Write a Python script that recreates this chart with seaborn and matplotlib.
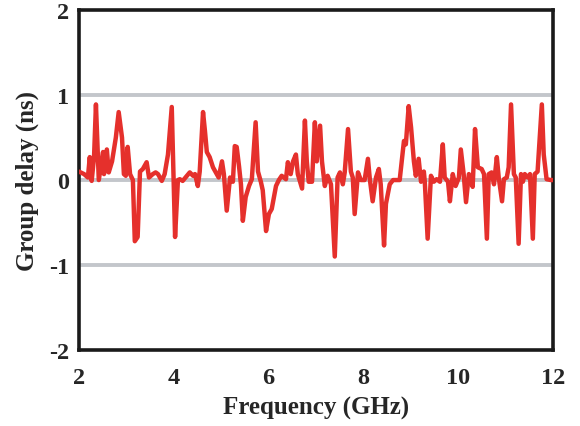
import matplotlib
matplotlib.use("Agg")
import matplotlib.pyplot as plt
import seaborn as sns
import pandas as pd

# Measured group delay variation across the band
freq_ghz = [
    2.00, 2.11, 2.19, 2.23, 2.27, 2.32, 2.36, 2.42, 2.46, 2.51, 2.53, 2.59, 2.63, 2.70,
    2.78, 2.84, 2.91, 2.95, 2.99, 3.03, 3.08, 3.14, 3.18, 3.24, 3.29, 3.35, 3.43, 3.48,
    3.56, 3.62, 3.67, 3.75, 3.81, 3.88, 3.96, 3.98, 4.03, 4.09, 4.13, 4.19, 4.28, 4.34,
    4.41, 4.45, 4.51, 4.55, 4.62, 4.66, 4.70, 4.76, 4.83, 4.91, 4.95, 5.02, 5.06, 5.12,
    5.19, 5.25, 5.29, 5.33, 5.38, 5.42, 5.46, 5.52, 5.59, 5.65, 5.73, 5.78, 5.84, 5.88,
    5.95, 6.01, 6.07, 6.16, 6.22, 6.28, 6.37, 6.41, 6.47, 6.52, 6.58, 6.62, 6.71, 6.77,
    6.81, 6.85, 6.92, 6.98, 7.02, 7.09, 7.13, 7.19, 7.25, 7.32, 7.40, 7.46, 7.51, 7.57,
    7.61, 7.68, 7.74, 7.78, 7.82, 7.89, 7.95, 8.03, 8.10, 8.14, 8.20, 8.27, 8.33, 8.37,
    8.44, 8.48, 8.56, 8.63, 8.71, 8.77, 8.86, 8.90, 8.96, 9.01, 9.07, 9.11, 9.17, 9.22,
    9.28, 9.30, 9.36, 9.43, 9.49, 9.55, 9.62, 9.68, 9.72, 9.79, 9.83, 9.89, 9.95, 10.02,
    10.06, 10.12, 10.17, 10.23, 10.31, 10.36, 10.42, 10.50, 10.55, 10.61, 10.65, 10.71,
    10.76, 10.82, 10.86, 10.93, 10.97, 11.03, 11.07, 11.12, 11.18, 11.22, 11.28, 11.33,
    11.37, 11.41, 11.47, 11.52, 11.58, 11.62, 11.68, 11.77, 11.81, 11.87, 11.96, 12.00,
]
delay_ns = [
    0.10, 0.07, 0.03, 0.27, -0.01, 0.27, 0.89, 0.00, 0.15, 0.33, 0.07, 0.36, 0.09, 0.22,
    0.50, 0.80, 0.50, 0.07, 0.05, 0.39, 0.07, 0.00, -0.72, -0.67, 0.10, 0.13, 0.21, 0.03,
    0.07, 0.09, 0.07, -0.01, 0.07, 0.30, 0.86, 0.42, -0.67, 0.00, 0.01, -0.01, 0.05, 0.09,
    0.05, 0.07, -0.07, 0.10, 0.80, 0.58, 0.33, 0.27, 0.15, 0.07, 0.03, 0.22, 0.07, -0.36,
    0.03, -0.02, 0.40, 0.39, 0.16, -0.05, -0.48, -0.20, -0.07, 0.01, 0.68, 0.10, -0.02, -0.12,
    -0.60, -0.40, -0.34, -0.07, 0.00, 0.05, 0.01, 0.21, 0.07, 0.22, 0.30, 0.07, -0.10, 0.70,
    0.22, -0.02, -0.02, 0.68, 0.22, 0.64, 0.22, -0.07, 0.05, -0.05, -0.90, 0.03, 0.09, -0.05,
    0.09, 0.60, 0.10, 0.03, -0.40, 0.09, 0.00, 0.00, 0.25, 0.01, -0.25, 0.03, 0.13, -0.05,
    -0.77, -0.28, -0.05, 0.00, 0.00, 0.00, 0.46, 0.42, 0.87, 0.62, 0.22, 0.05, 0.25, -0.02,
    0.10, -0.02, -0.69, 0.05, -0.02, 0.01, -0.02, 0.42, 0.03, -0.02, -0.25, 0.07, -0.07, 0.03,
    0.36, 0.07, -0.26, 0.07, -0.08, 0.60, 0.15, 0.13, 0.07, -0.69, 0.07, 0.09,
    -0.05, 0.27, 0.03, -0.25, 0.01, 0.03, 0.15, 0.89, 0.07, 0.03, -0.75, 0.07,
    -0.02, 0.07, 0.03, 0.07, -0.69, 0.07, 0.10, 0.89, 0.30, 0.01, 0.00, 0.00,
]
x_ticks = [2, 4, 6, 8, 10, 12]
y_ticks = [-2, -1, 0, 1, 2]
grid_levels = [-1, 0, 1]

df = pd.DataFrame({"Frequency (GHz)": freq_ghz, "Group delay (ns)": delay_ns})

sns.set_style("white")
plt.rcParams["font.family"] = ["Liberation Serif", "DejaVu Serif"]
plt.rcParams["font.weight"] = "bold"

fig = plt.figure(figsize=(5.8, 4.27), dpi=100)
ax = fig.add_axes([0.136, 0.178, 0.817, 0.796])

for lvl in grid_levels:
    ax.axhline(lvl, color="#c3c6cb", lw=2.8, zorder=1)

sns.lineplot(data=df, x="Frequency (GHz)", y="Group delay (ns)", ax=ax,
             color="#e5302c", lw=3.2, sort=False, zorder=3,
             solid_joinstyle="round", solid_capstyle="round")

ax.set_xlim(2, 12)
ax.set_ylim(-2, 2)
ax.set_xticks(x_ticks)
ax.set_yticks(y_ticks)
ax.set_xticklabels([str(t) for t in x_ticks], fontsize=17.5, fontweight="bold")
ax.set_yticklabels([str(t) for t in y_ticks], fontsize=17.5, fontweight="bold")
ax.tick_params(axis="both", direction="out", length=3, width=1.2, color="#222222")
ax.tick_params(axis="x", pad=9)
ax.tick_params(axis="y", pad=4)
ax.set_xlabel("Frequency (GHz)", fontsize=18, fontweight="bold", labelpad=6)
ax.set_ylabel("Group delay (ns)", fontsize=18, fontweight="bold", labelpad=7)

for sp in ax.spines.values():
    sp.set_visible(True)
    sp.set_color("#1a1a1a")
    sp.set_linewidth(2.6)

fig.savefig("out.png", dpi=100)
